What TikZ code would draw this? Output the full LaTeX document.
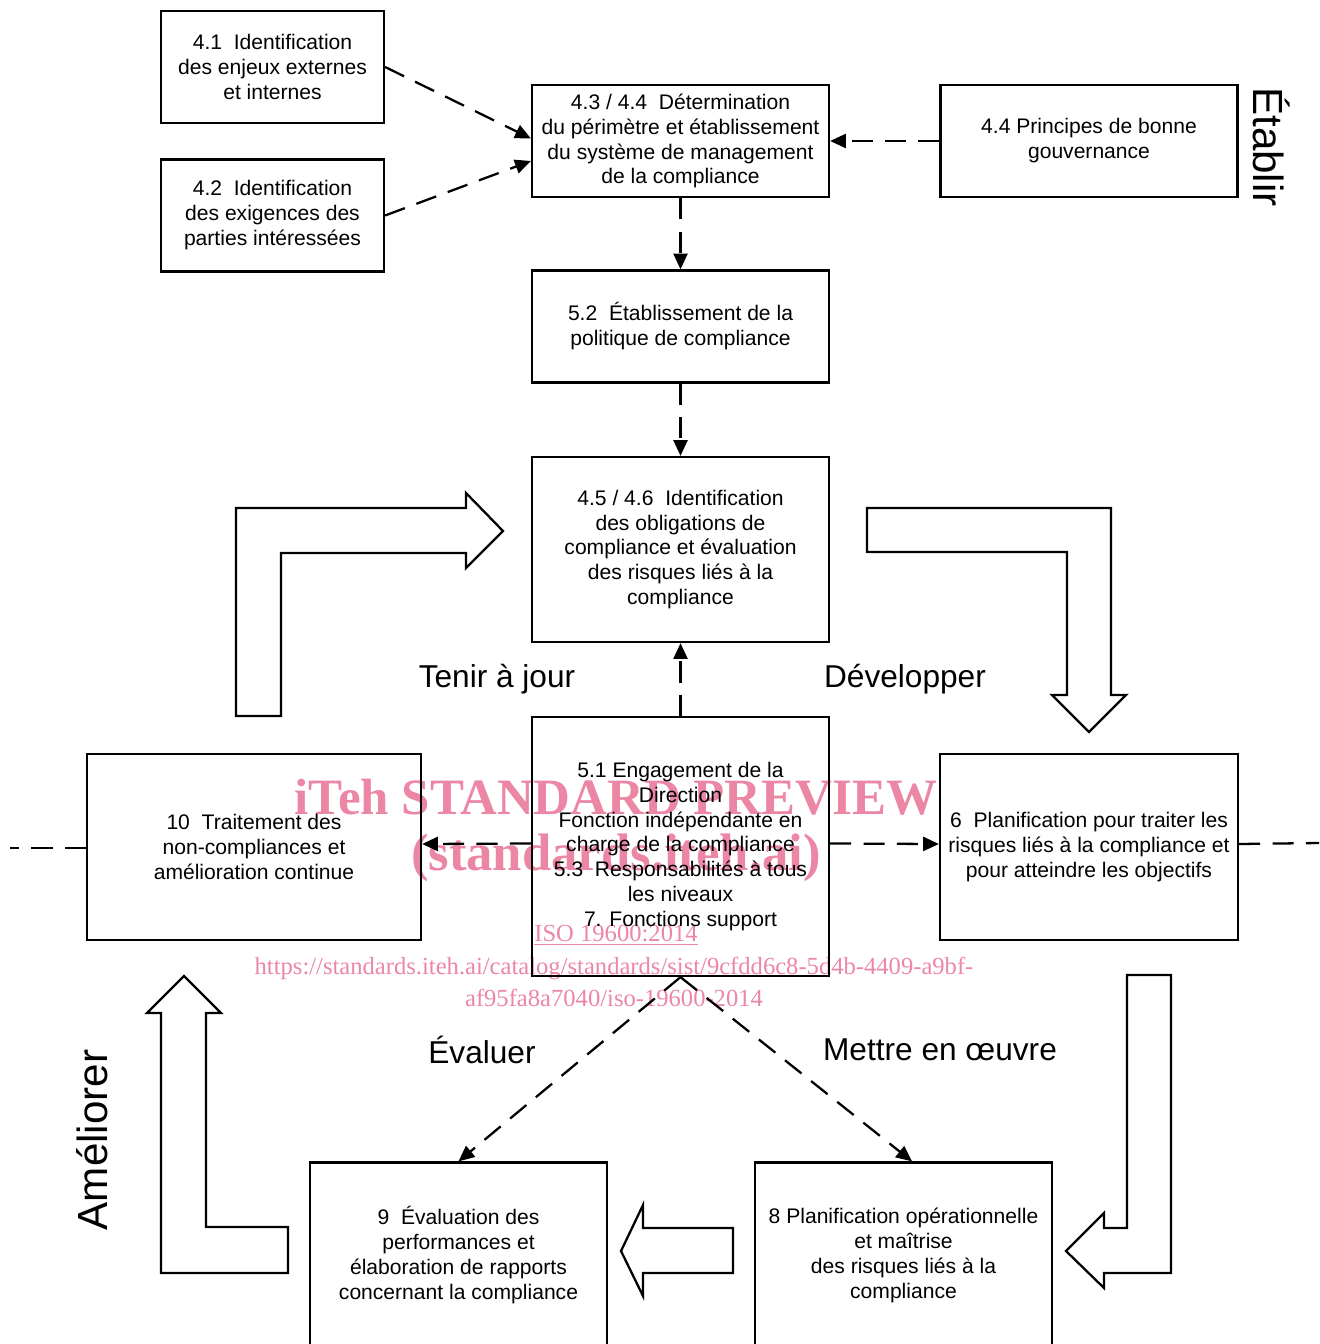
\documentclass[tikz,border=0pt]{standalone}
\usepackage{fontspec}
\setmainfont{Liberation Sans}
\newfontfamily\wmfont{Liberation Serif}
\usetikzlibrary{positioning, arrows.meta, calc}
\definecolor{wmpink}{RGB}{236,134,165}

\tikzset{
  box/.style={draw, line width=1.3pt, align=center, inner sep=2pt,
    font=\fontsize{12}{14.2}\selectfont},
  smallbox/.style={box, minimum width=4.46cm, minimum height=2.24cm},
  widebox/.style={box, minimum width=5.94cm, minimum height=2.24cm},
  tallbox/.style={box, minimum width=5.94cm, minimum height=3.7cm},
  flow/.style={line width=1.3pt, dash pattern=on 12pt off 7pt,
    -{Triangle[length=9pt,width=8pt]}},
  link/.style={line width=1.3pt, dash pattern=on 12pt off 7pt},
  bigarrow/.style={draw, line width=1.3pt, line join=miter},
  phase/.style={font=\fontsize{18}{21}\selectfont},
  stage/.style={font=\fontsize{24}{28}\selectfont},
  wm/.style={text=wmpink, align=center, inner sep=0pt}
}

\begin{document}
\begin{tikzpicture}[x=0.02cm, y=-0.02cm]
    \clip (0,0) rectangle (1319,1344);

    % watermark
    \node[wm, font=\wmfont\bfseries\fontsize{29}{32}\selectfont] (wmtop) at (616,797) {iTeh STANDARD PREVIEW};
    \node[wm, font=\wmfont\bfseries\fontsize{30}{33}\selectfont] (wmsite) at (616,858) {(standards.iteh.ai)};
    \node[wm, font=\wmfont\fontsize{14}{16}\selectfont] (wmiso) at (616,935) {\underline{ISO 19600:2014}};
    \node[wm, font=\wmfont\fontsize{14}{16}\selectfont] (wmurl) at (614,982)
        {https://standards.iteh.ai/catalog/standards/sist/9cfdd6c8-5d4b-4409-a9bf-\\[2pt]af95fa8a7040/iso-19600-2014};

    % Etablir
    \node[smallbox] (n41) at (272.5,67) {4.1~ Identification\\des enjeux externes\\et internes};
    \node[smallbox] (n42) at (272.5,215.5) {4.2~ Identification\\des exigences des\\parties intéressées};
    \node[widebox] (n43) at (680.5,141) {4.3 / 4.4~ Détermination\\du périmètre et établissement\\du système de management\\de la compliance};
    \node[widebox] (n44) at (1089,141) {4.4 Principes de bonne\\gouvernance};
    \node[widebox] (n52) at (680.5,326.5) {5.2~ Établissement de la\\politique de compliance};
    \node[tallbox] (n45) at (680.5,549.5) {4.5 / 4.6~ Identification\\des obligations de\\compliance et évaluation\\des risques liés à la\\compliance};

    % cycle
    \node[box, minimum width=5.94cm, minimum height=5.18cm] (n51) at (680.5,846.5)
        {5.1 Engagement de la\\Direction\\Fonction indépendante en\\charge de la compliance\\5.3~ Responsabilités à tous\\les niveaux\\7. Fonctions support};
    \node[box, minimum width=6.68cm, minimum height=3.72cm] (n10) at (254,847) {10~ Traitement des\\non-compliances et\\amélioration continue};
    \node[box, minimum width=5.96cm, minimum height=3.72cm] (n6) at (1089,847) {6~ Planification pour traiter les\\risques liés à la compliance et\\pour atteindre les objectifs};
    \node[tallbox] (n9) at (458.5,1255) {9~ Évaluation des\\performances et\\élaboration de rapports\\concernant la compliance};
    \node[tallbox] (n8) at (903.5,1255) {8 Planification opérationnelle\\et maîtrise\\des risques liés à la\\compliance};

    \coordinate (leftend) at (10,848);
    \coordinate (rightend) at (1319,843);

    \path[flow]
    (n41.east) edge ([yshift=0.05cm]n43.west)
    (n42.east) edge ([yshift=-0.4cm]n43.west)
    (n44.west) edge (n43.east)
    (n43) edge (n52)
    (n52) edge (n45)
    (n51) edge (n45)
    ([yshift=0.06cm]n51.west) edge ([yshift=0.06cm]n10.east)
    ([yshift=0.06cm]n51.east) edge ([yshift=0.06cm]n6.west)
    (n51.south) edge (n9.north)
    (n51.south) edge ([xshift=0.17cm]n8.north)
    ;
    \draw[link] ([yshift=-0.02cm]n10.west) -- (leftend);
    \draw[link] ([yshift=0.06cm]n6.east) -- (rightend);

    % block arrows
    \draw[bigarrow] (236,716) -- (236,508) -- (466,508) -- (466,493) -- (503,531)
        -- (466,568) -- (466,553) -- (281,553) -- (281,716) -- cycle;
    \draw[bigarrow] (867,508) -- (1111,508) -- (1111,695) -- (1126,695) -- (1089,732)
        -- (1052,695) -- (1067,695) -- (1067,552) -- (867,552) -- cycle;
    \draw[bigarrow] (1127,975) -- (1171,975) -- (1171,1273) -- (1104,1273) -- (1104,1288)
        -- (1066,1251) -- (1104,1213) -- (1104,1228) -- (1127,1228) -- cycle;
    \draw[bigarrow] (733,1228) -- (643,1228) -- (643,1205) -- (621,1251) -- (643,1296)
        -- (643,1273) -- (733,1273) -- cycle;
    \draw[bigarrow] (288,1273) -- (161,1273) -- (161,1013) -- (147,1013) -- (184,976)
        -- (221,1013) -- (206,1013) -- (206,1227) -- (288,1227) -- cycle;

    % labels
    \node[phase] (tenir) at (497,679) {Tenir à jour};
    \node[phase] (dev) at (905,679) {Développer};
    \node[phase] (eval) at (482,1050) {Évaluer};
    \node[phase] (mettre) at (940,1050) {Mettre en œuvre};
    \node[stage, rotate=-90] (etablir) at (1272,147) {Établir};
    \node[stage, rotate=90] (ameliorer) at (92,1140) {Améliorer};
\end{tikzpicture}
\end{document}
